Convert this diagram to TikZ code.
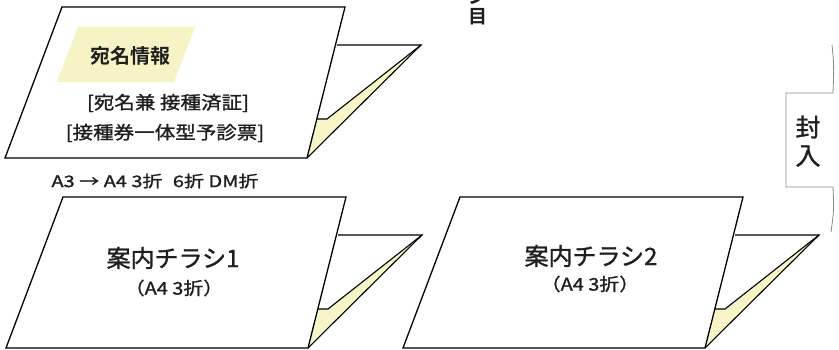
\documentclass[tikz,border=0pt]{standalone}
\usepackage{fontspec}
\setmainfont{Noto Sans CJK JP}
\newfontfamily\jpbold{Noto Sans CJK JP Bold}
\newfontfamily\jpwide[FakeStretch=1.14,FakeBold=1.2]{Noto Sans CJK JP}
\newfontfamily\jpwider[FakeStretch=1.25,FakeBold=1.4]{Noto Sans CJK JP}
\newfontfamily\jpmid[FakeBold=1.2]{Noto Sans CJK JP}
\definecolor{foldyellow}{HTML}{F7F4C8}
\definecolor{hiyellow}{HTML}{F6F3C4}
\definecolor{boxgray}{HTML}{8A8A8A}
\tikzset{
  docline/.style={draw=black, line width=1.3pt, line join=miter},
  flapline/.style={draw=black, line width=1.1pt, line join=miter},
  txt/.style={inner sep=0pt, text=black!88},
}
\newcommand\folddoc{%
  \fill[white] (337,45) -- (421,45) -- (307,158) -- cycle;
  \fill[foldyellow] (317,119) -- (327,119) -- (421,45) -- (307,158) -- cycle;
  \draw[flapline] (337,45) -- (421,45) -- (307,158);
  \draw[flapline] (421,45) -- (327,119) -- (317,119);
  \draw[docline, fill=white] (62,7) -- (345,7) -- (307,158) -- (5,158) -- cycle;
}
\begin{document}
\begin{tikzpicture}[x=1pt,y=-1pt]
\useasboundingbox (0,0) rectangle (839,350);
\begin{scope}
\clip (0,0) rectangle (839,350);
% top document
\folddoc
\fill[hiyellow] (57,82) -- (78,27) -- (195,27) -- (174,82) -- cycle;
\node[txt, font=\jpbold\fontsize{20}{20}\selectfont] (t1) at (130,56) {宛名情報};
\node[txt, font=\jpwide\fontsize{18}{18}\selectfont] (t2) at (168,103) {[宛名兼 接種済証]};
\node[txt, font=\jpwide\fontsize{18}{18}\selectfont] (t3) at (165,133) {[接種券一体型予診票]};
\node[txt, font=\jpwider\fontsize{16}{16}\selectfont] (t4) at (155,181) {A3 → A4 3折\hspace{0.65em}6折 DM折};
% bottom documents
\begin{scope}[shift={(1,190)}]
\folddoc
\end{scope}
\begin{scope}[shift={(398,190)}]
\folddoc
\end{scope}
\node[txt, font=\jpmid\fontsize{24}{24}\selectfont] (c1) at (173,258) {案内チラシ1};
\node[txt, font=\jpwide\fontsize{17.5}{17.5}\selectfont] (c1s) at (174,288) {（A4 3折）};
\node[txt, font=\jpmid\fontsize{24}{24}\selectfont] (c2) at (591,256) {案内チラシ2};
\node[txt, font=\jpwide\fontsize{17.5}{17.5}\selectfont] (c2s) at (590,284) {（A4 3折）};
% enclosing box
\draw[boxgray, line width=0.8pt] (832,45) .. controls (834,65) .. (833,93) -- (786,93) -- (786,187) -- (833,187) .. controls (834,210) .. (831,232);
\node[txt, font=\jpmid\fontsize{25}{25}\selectfont] (f1) at (808,127) {封};
\node[txt, font=\jpmid\fontsize{25}{25}\selectfont] (f2) at (808,156) {入};
% cut-off vertical text at top
\node[txt, font=\jpbold\fontsize{19}{19}\selectfont] (m1) at (478,17) {目};
\node[txt, font=\jpbold\fontsize{19}{19}\selectfont] (m0) at (478,-4) {ジ};
\end{scope}
\end{tikzpicture}
\end{document}
